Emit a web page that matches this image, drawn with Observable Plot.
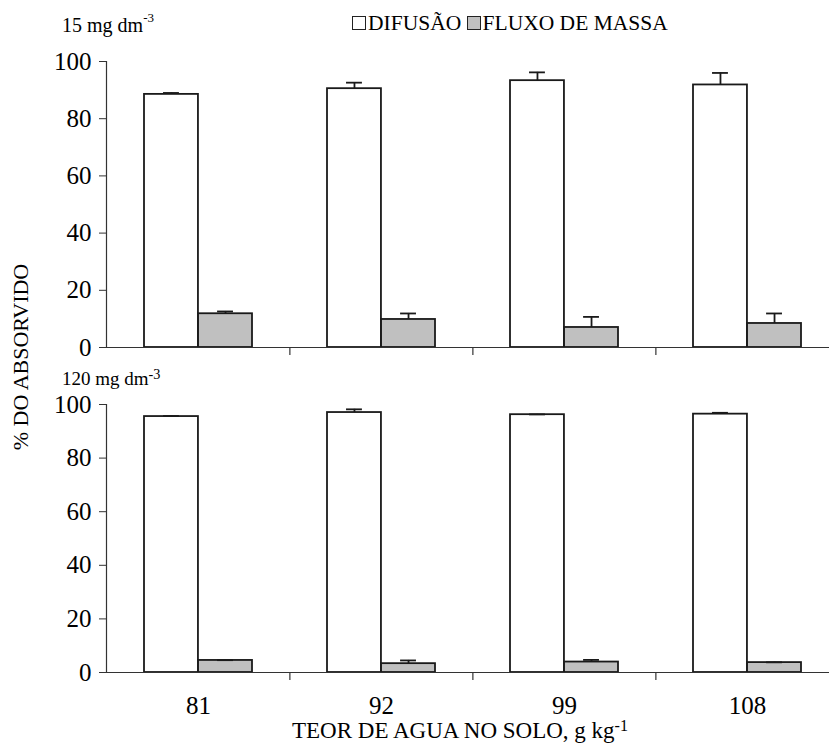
<!DOCTYPE html>
<html>
<head>
<meta charset="utf-8">
<script src="https://cdn.jsdelivr.net/npm/d3@7"></script>
<script src="https://cdn.jsdelivr.net/npm/@observablehq/plot@0.6"></script>
<style>
  html, body { margin: 0; padding: 0; background: white; }
  #wrap { position: relative; width: 829px; height: 746px; overflow: hidden; background: white; font-family: 'Liberation Serif', serif; color: #000; }
  .abs { position: absolute; white-space: nowrap; font-family: 'Liberation Serif', serif; }
  .sw { display: inline-block; width: 12px; height: 12px; border: 1.5px solid #222; vertical-align: 0px; margin-right: 2px; }
</style>
</head>
<body>
<div id="wrap"></div>
<script>
// ---- data ----
const teor = ["81", "92", "99", "108"];
const series = ["DIFUSÃO", "FLUXO DE MASSA"];
const yTicks = [0, 20, 40, 60, 80, 100];

// 15 mg dm-3
const dif15 = [88.5, 90.5, 93.3, 91.8];
const errDif15 = [0.5, 2.1, 2.9, 4.2];
const flu15 = [11.8, 9.8, 7.0, 8.4];
const errFlu15 = [0.8, 2.1, 3.7, 3.5];

// 120 mg dm-3
const dif120 = [95.5, 97.0, 96.2, 96.4];
const errDif120 = [0.2, 1.2, 0.1, 0.5];
const flu120 = [4.5, 3.3, 3.9, 3.7];
const errFlu120 = [0.1, 1.2, 0.8, 0.1];

const FONT = "'Liberation Serif', serif";
const wrap = document.getElementById("wrap");

function panel({dif, errDif, flu, errFlu, top, height, marginTop, marginBottom, labels}) {
  const left = 106, right = 839;
  const step = (right - left) / teor.length;
  const pIn = 0.41, pOut = pIn / 2;
  const bw = step * (1 - pIn);
  const half = bw / 2;
  const capW = 16;
  const capInset = (bw - capW) / 2;
  const stroke = "#1a1a1a", sw = 1.8;
  const rows = teor.map((t, i) => ({teor: t, dif: dif[i], ed: errDif[i], flu: flu[i], ef: errFlu[i]}));
  const plotH = height - marginTop - marginBottom;
  const tickLen = 8 * 100 / plotH;

  const chart = Plot.plot({
    width: 829, height, marginLeft: left, marginRight: 0, marginTop, marginBottom,
    x: {type: "band", domain: teor, range: [left, right], paddingInner: pIn, paddingOuter: pOut, axis: null},
    y: {domain: [0, 100], axis: null},
    style: {fontFamily: FONT, fontSize: "25px", background: "transparent", overflow: "visible", color: "#000"},
    marks: [
      Plot.barY(rows, {x: "teor", y: "dif", insetRight: half, fill: "white", stroke, strokeWidth: sw}),
      Plot.barY(rows, {x: "teor", y: "flu", insetLeft: half, fill: "#c0c0c0", stroke, strokeWidth: sw}),
      Plot.ruleX(rows, {x: "teor", y1: "dif", y2: d => d.dif + d.ed, dx: -half / 2, stroke, strokeWidth: sw}),
      Plot.tickY(rows, {x: "teor", y: d => d.dif + d.ed, dx: -half / 2, insetLeft: capInset, insetRight: capInset, stroke, strokeWidth: sw}),
      Plot.ruleX(rows, {x: "teor", y1: "flu", y2: d => d.flu + d.ef, dx: half / 2, stroke, strokeWidth: sw}),
      Plot.tickY(rows, {x: "teor", y: d => d.flu + d.ef, dx: half / 2, insetLeft: capInset, insetRight: capInset, stroke, strokeWidth: sw}),
      Plot.ruleY([0], {stroke: "#333", strokeWidth: 1.2}),
      Plot.ruleX(teor.slice(1), {x: d => d, y1: 0, y2: -tickLen, dx: -step / 2, stroke: "#333", strokeWidth: 1.2}),
      Plot.frame({anchor: "left", stroke: "#333", strokeWidth: 1.2}),
      Plot.axisY({ticks: yTicks, tickSize: 7, tickPadding: 8, fontSize: 25, fontFamily: FONT, stroke: "#333", label: null}),
      labels ? Plot.axisX({tickSize: 0, tickPadding: 24, fontSize: 25, fontFamily: FONT, label: null}) : null
    ]
  });
  chart.style.position = "absolute";
  chart.style.left = "0px";
  chart.style.top = top + "px";
  wrap.appendChild(chart);
}

panel({dif: dif15, errDif: errDif15, flu: flu15, errFlu: errFlu15, top: 40, height: 322, marginTop: 21, marginBottom: 15, labels: false});
panel({dif: dif120, errDif: errDif120, flu: flu120, errFlu: errFlu120, top: 380, height: 352, marginTop: 24, marginBottom: 60, labels: true});

function addText(html, style) {
  const d = document.createElement("div");
  d.className = "abs";
  d.innerHTML = html;
  Object.assign(d.style, style);
  wrap.appendChild(d);
  return d;
}

// panel labels
addText("15 mg dm<sup style='font-size:0.65em;vertical-align:0.8em;line-height:0'>-3</sup>", {left: "62px", top: "14px", fontSize: "20px", lineHeight: "22px"});
addText("120 mg dm<sup style='font-size:0.75em;vertical-align:0.45em;line-height:0'>-3</sup>", {left: "62px", top: "369px", fontSize: "19px", lineHeight: "20px"});

// legend
addText(
  `<span class="sw" style="background:white"></span>${series[0]}&nbsp;<span class="sw" style="background:#c0c0c0"></span>${series[1]}`,
  {left: "352px", top: "11px", fontSize: "21.5px", lineHeight: "24px"}
);

// axis titles
addText("TEOR DE AGUA NO SOLO, g kg<sup style='font-size:0.7em;vertical-align:0.45em;line-height:0'>-1</sup>", {left: "460px", top: "719px", fontSize: "23px", lineHeight: "24px", transform: "translateX(-50%)"});
addText("% DO ABSORVIDO", {left: "21px", top: "357px", fontSize: "22px", lineHeight: "24px", transform: "translate(-50%,-50%) rotate(-90deg)"});
</script>
</body>
</html>
